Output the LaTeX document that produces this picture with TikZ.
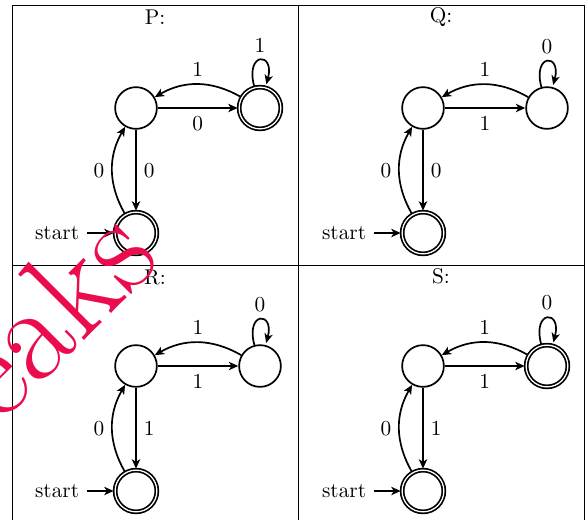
\documentclass[tikz,border=0pt]{standalone}
\usetikzlibrary{automata,arrows.meta}
\definecolor{wmred}{RGB}{235,12,78}

% One three-state automaton in a grid cell:
% #1,#2 shift, #3 prefix, #4 extra style of the right state,
% #5 A->B, #6 B->A, #7 loop on B, #8 A->C, #9 C->A
\newcommand\drawdfa[9]{%
  \begin{scope}[shift={(#1,#2)}]
    \node[state] (#3A) at (136,-108) {};
    \node[state,#4] (#3B) at (260,-108) {};
    \node[state,accepting,initial,initial text=start] (#3C) at (136,-233) {};
    \path[->] (#3A) edge node[below] {#5} (#3B)
              (#3B) edge[bend right] node[above] {#6} (#3A)
              (#3B) edge[loop above] node[above] {#7} ()
              (#3A) edge node[right] {#8} (#3C)
              (#3C) edge[bend left] node[left] {#9} (#3A);
  \end{scope}}

\begin{document}
\begin{tikzpicture}[x=0.4695pt,y=0.4695pt,
  >={Stealth[length=4.4pt,width=3.9pt,inset=1.2pt]},
  every state/.style={draw,thick,minimum size=19.6pt,inner sep=0pt},
  every edge/.append style={thick},
  initial distance=12.5pt,
  every initial by arrow/.style={thick},
  grid/.style={line width=0.4pt},
  title/.style={inner sep=0pt}]
  \useasboundingbox (0,0) rectangle (586,-520);
  \clip (0,0) rectangle (586,-520);

  % table rules
  \draw[grid] (12,-520) -- (12,-5) -- (584,-5) -- (584,-520);
  \draw[grid] (298,-5) -- (298,-520);
  \draw[grid] (12,-265) -- (584,-265);

  % cell titles
  \node[title] (tP) at (155,-17) {P:};
  \node[title] (tQ) at (441,-17) {Q:};
  \node[title] (tR) at (155,-277) {R:};
  \node[title] (tS) at (441,-276) {S:};

  % the four automata
  \drawdfa{0}{0}{p}{accepting}{0}{1}{1}{0}{0}
  \drawdfa{287}{0}{q}{}{1}{1}{0}{0}{0}
  \drawdfa{0}{-258}{r}{}{1}{1}{0}{1}{0}
  \drawdfa{287}{-258}{s}{accepting}{1}{1}{0}{1}{0}

  % watermark
  \node[anchor=base west,rotate=45,inner sep=0pt,text=wmred,
        font=\fontsize{64}{64}\selectfont] (wm) at (-57.6,-482.3) {Leaks};
\end{tikzpicture}
\end{document}
